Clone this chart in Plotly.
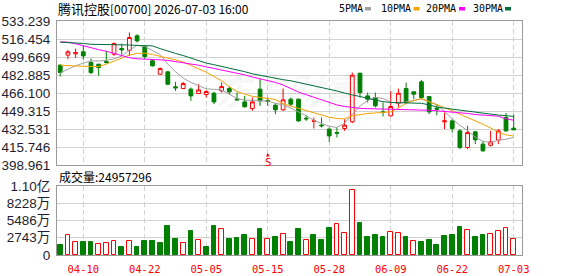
import plotly.graph_objects as go

# ---------------- data ----------------
dates = [
    "2026-04-07", "2026-04-08", "2026-04-09", "2026-04-10", "2026-04-13", "2026-04-14", "2026-04-15",
    "2026-04-16", "2026-04-17", "2026-04-20", "2026-04-21", "2026-04-22", "2026-04-23", "2026-04-24",
    "2026-04-27", "2026-04-28", "2026-04-29", "2026-04-30", "2026-05-04", "2026-05-05", "2026-05-06",
    "2026-05-07", "2026-05-08", "2026-05-11", "2026-05-12", "2026-05-13", "2026-05-14", "2026-05-15",
    "2026-05-18", "2026-05-19", "2026-05-20", "2026-05-21", "2026-05-22", "2026-05-26", "2026-05-27",
    "2026-05-28", "2026-05-29", "2026-06-01", "2026-06-02", "2026-06-03", "2026-06-04", "2026-06-05",
    "2026-06-08", "2026-06-09", "2026-06-10", "2026-06-11", "2026-06-12", "2026-06-15", "2026-06-16",
    "2026-06-17", "2026-06-18", "2026-06-22", "2026-06-23", "2026-06-24", "2026-06-25", "2026-06-26",
    "2026-06-29", "2026-06-30", "2026-07-02", "2026-07-03",
]
open_ = [492.0, 501.4, 502.6, 504.5, 494.5, 493.0, 495.4, 502.3, 507.6, 506.0,
         519.4, 509.4, 496.1, 483.6, 485.8, 471.9, 470.3, 469.7, 465.6, 464.7,
         465.9, 468.1, 470.3, 460.3, 457.8, 451.6, 469.7, 459.1, 454.7, 450.4,
         460.3, 460.3, 442.6, 439.8, 436.1, 432.4, 429.2, 433.0, 439.2, 484.6,
         463.4, 461.9, 448.5, 444.8, 456.3, 470.3, 467.2, 476.5, 462.8, 451.9,
         439.2, 440.1, 430.8, 415.3, 429.9, 418.4, 417.4, 422.1, 443.2, 433.3]
high = [493.0, 506.3, 507.6, 510.1, 498.2, 493.0, 505.4, 513.2, 512.2, 522.5,
        520.9, 510.7, 497.6, 489.9, 486.7, 476.5, 476.5, 471.2, 474.3, 468.7,
        467.2, 475.9, 472.1, 466.5, 463.4, 461.9, 479.0, 461.9, 456.6, 470.3,
        461.9, 460.9, 445.4, 443.2, 443.2, 433.9, 433.9, 441.7, 485.2, 484.6,
        466.5, 466.5, 457.2, 468.1, 470.3, 475.9, 467.2, 478.3, 462.8, 455.7,
        447.9, 441.7, 432.4, 435.5, 430.8, 421.5, 430.8, 432.4, 447.3, 446.3]
low = [481.5, 497.6, 498.9, 497.0, 483.6, 482.1, 493.6, 500.7, 501.7, 500.7,
       513.2, 497.6, 490.8, 483.0, 473.4, 468.1, 469.7, 458.8, 465.0, 461.9,
       455.7, 466.5, 464.4, 459.5, 452.6, 449.5, 454.1, 454.1, 446.3, 449.5,
       454.1, 439.2, 440.1, 433.0, 433.9, 420.5, 424.6, 430.8, 438.0, 461.9,
       457.2, 452.6, 444.2, 444.2, 452.6, 455.7, 460.3, 460.3, 446.3, 445.4,
       432.4, 429.2, 413.7, 413.7, 418.4, 411.2, 416.2, 418.4, 429.9, 431.7]
close = [485.2, 504.5, 503.8, 500.7, 485.2, 489.9, 494.5, 512.2, 506.3, 517.8,
         514.7, 500.1, 491.4, 488.9, 474.3, 470.9, 474.9, 463.4, 469.0, 467.5,
         457.8, 472.1, 467.2, 459.7, 453.2, 457.8, 458.8, 458.2, 450.4, 459.7,
         455.7, 440.1, 442.0, 440.1, 435.5, 426.1, 428.6, 436.1, 482.7, 466.5,
         460.3, 454.1, 447.9, 453.5, 465.9, 457.2, 465.0, 461.9, 448.5, 451.0,
         440.1, 433.0, 415.3, 429.2, 422.4, 412.2, 420.5, 430.8, 430.8, 431.7]

ma5 = [485.0, 488.5, 491.5, 494.0, 496.0, 496.0, 496.5, 498.0, 500.5, 506.0,
       510.5, 509.5, 505.5, 502.0, 493.0, 486.0, 480.0, 476.0, 473.0, 470.0,
       469.5, 469.0, 465.0, 461.0, 459.5, 459.0, 458.8, 458.5, 456.5, 455.0,
       452.0, 448.5, 445.0, 440.5, 437.5, 435.0, 434.0, 438.0, 446.0, 454.0,
       459.0, 462.0, 461.0, 457.5, 456.5, 458.0, 459.5, 460.5, 458.0, 455.0,
       449.0, 442.0, 436.0, 431.0, 425.0, 421.0, 420.0, 422.0, 423.0, 424.6]
ma10 = [492.0, 491.5, 491.0, 491.0, 490.8, 490.8, 493.0, 496.0, 498.5, 501.5,
        503.0, 503.2, 502.0, 500.5, 499.0, 497.0, 495.0, 492.0, 488.5, 485.5,
        481.5, 477.5, 472.0, 467.5, 465.0, 463.0, 462.0, 461.0, 460.0, 456.0,
        454.0, 452.0, 450.0, 447.5, 445.5, 443.5, 442.3, 442.0, 444.8, 446.0,
        447.0, 447.5, 448.0, 448.5, 452.0, 456.5, 459.0, 461.0, 458.0, 455.5,
        452.5, 449.5, 446.5, 443.5, 440.5, 437.0, 433.5, 429.5, 427.0, 426.0]
ma20 = [513.8, 513.5, 512.0, 510.0, 508.5, 506.5, 505.0, 503.0, 501.0, 499.0,
        498.0, 497.8, 497.5, 497.0, 496.5, 495.5, 494.5, 493.5, 492.0, 490.5,
        489.0, 488.0, 486.5, 484.5, 483.0, 481.0, 479.5, 478.0, 476.0, 473.5,
        470.0, 467.0, 464.5, 462.0, 460.0, 457.5, 455.0, 453.5, 452.5, 451.8,
        451.5, 451.3, 451.2, 451.0, 451.0, 451.0, 451.0, 450.5, 450.0, 449.5,
        449.0, 448.5, 448.0, 447.0, 446.0, 445.5, 445.0, 444.5, 442.0, 440.7]
ma30 = [513.5, 513.3, 513.0, 512.3, 511.5, 511.2, 511.0, 511.0, 511.0, 510.8,
        510.7, 510.3, 510.0, 507.5, 505.0, 503.0, 501.0, 498.5, 496.0, 494.0,
        492.5, 491.0, 489.0, 487.5, 486.0, 484.0, 482.5, 481.0, 480.0, 478.5,
        477.5, 476.0, 474.5, 473.0, 471.5, 470.0, 468.0, 466.0, 464.5, 463.0,
        461.5, 460.0, 458.0, 457.3, 457.2, 457.2, 457.0, 456.5, 455.0, 453.0,
        452.0, 451.0, 450.0, 449.0, 448.0, 447.5, 446.5, 445.5, 445.0, 444.2]

volume = [16230000, 32460000, 20560000, 21100000, 21100000, 17850000, 18940000, 22180000, 12980000, 22180000,
          12980000, 22720000, 22720000, 18390000, 45440000, 25970000, 18940000, 38950000, 23800000, 12980000,
          45440000, 41660000, 25970000, 27590000, 32460000, 25430000, 40580000, 25430000, 29210000, 33540000,
          20020000, 40580000, 24350000, 32460000, 24350000, 42200000, 48690000, 35170000, 103870000, 50310000,
          29210000, 32460000, 29210000, 36790000, 35170000, 29210000, 22720000, 20020000, 24350000, 16230000,
          30840000, 32460000, 43820000, 40030000, 29210000, 32460000, 34080000, 38950000, 42200000, 24957296]
# volume bar direction: r = up (red hollow), g = down (green)
volume_dir = list("grrggrrrgr" "ggggggrgrg" "grgggrgrgr" "ggrgggrrrg" "gggrrgrggg" "gggrggrrrr")

tick_dates = ["2026-04-10", "2026-04-22", "2026-05-05", "2026-05-15",
              "2026-05-28", "2026-06-09", "2026-06-22", "2026-07-03"]
tick_labels = ["04-10", "04-22", "05-05", "05-15", "05-28", "06-09", "06-22", "07-03"]
price_ticks = [398.961, 415.746, 432.531, 449.315, 466.100, 482.885, 499.669, 516.454, 533.239]
vol_ticks = [0, 27430000, 54860000, 82280000, 109710000]
vol_tick_labels = ["0", "2743万", "5486万", "8228万", "1.10亿"]

signal_dates = ["2026-05-15"]
signal_text = ["S"]

title_name = "腾讯控股"
title_rest = "[00700] 2026-07-03 16:00"
ma_names = ["5PMA", "10PMA", "20PMA", "30PMA"]

# ---------------- styles ----------------
RED = "#ff0000"
GREEN = "#008000"
MA_COLORS = ["#a0a0a0", "#f5a300", "#ff00ff", "#006e3a"]
AXIS_LINE = "#9a9a9a"
GRID = "#d2d2d2"
TICK_COLOR = "#1e1e30"

W, H = 578, 276
ML, MR, MT, MB = 57, 56, 21, 21
PW, PH = W - ML - MR, H - MT - MB


def px_x(px):
    return (px - ML) / PW


def px_y(py):
    return (H - MB - py) / PH


fig = go.Figure()

fig.add_trace(go.Candlestick(
    x=dates, open=open_, high=high, low=low, close=close,
    increasing=dict(line=dict(color=RED, width=1), fillcolor="white"),
    decreasing=dict(line=dict(color=GREEN, width=1), fillcolor=GREEN),
    whiskerwidth=0, xaxis="x", yaxis="y", hoverinfo="skip",
))

for vals, col in zip([ma5, ma10, ma20, ma30], MA_COLORS):
    fig.add_trace(go.Scatter(x=dates, y=vals, mode="lines",
                             line=dict(color=col, width=1),
                             xaxis="x", yaxis="y", hoverinfo="skip"))

fig.add_trace(go.Bar(
    x=dates, y=volume, width=0.62,
    marker=dict(color=["white" if d == "r" else GREEN for d in volume_dir],
                line=dict(color=[RED if d == "r" else GREEN for d in volume_dir], width=1)),
    xaxis="x2", yaxis="y2", hoverinfo="skip",
))

tickfont = dict(family="Liberation Sans, Noto Sans CJK SC", size=13.5, color=TICK_COLOR)

fig.update_layout(
    width=W, height=H,
    margin=dict(l=ML, r=MR, t=MT, b=MB, pad=0),
    paper_bgcolor="white", plot_bgcolor="white",
    showlegend=False,
    bargap=0,
    xaxis=dict(
        type="category", categoryorder="array", categoryarray=dates,
        range=[-0.42, 60.08], domain=[0, 1], anchor="y", automargin=False,
        tickvals=tick_dates, showticklabels=False,
        showgrid=True, gridcolor=GRID, griddash="5px,3px", gridwidth=1,
        showline=True, linecolor=AXIS_LINE, linewidth=1, mirror=True,
        ticks="", zeroline=False, rangeslider=dict(visible=False),
    ),
    yaxis=dict(
        domain=[px_y(165), 1], range=[price_ticks[0], price_ticks[-1]], automargin=False,
        tickvals=price_ticks, ticktext=["%.3f" % v for v in price_ticks],
        tickfont=tickfont, showgrid=True, gridcolor=GRID, gridwidth=1,
        showline=True, linecolor=AXIS_LINE, linewidth=1, mirror=True,
        ticks="", zeroline=False, ticklabelstandoff=3,
    ),
    xaxis2=dict(
        type="category", categoryorder="array", categoryarray=dates,
        range=[-0.42, 60.08], domain=[0, 1], anchor="y2", automargin=False,
        tickvals=tick_dates, ticktext=tick_labels,
        tickfont=dict(family="DejaVu Sans Mono", size=10.5, color=RED),
        showgrid=True, gridcolor=GRID, griddash="5px,3px", gridwidth=1,
        showline=True, linecolor=AXIS_LINE, linewidth=1, mirror=True,
        ticks="", zeroline=False, ticklabelstandoff=4,
    ),
    yaxis2=dict(
        domain=[0, px_y(186)], range=[0, vol_ticks[-1]], automargin=False,
        tickvals=vol_ticks, ticktext=vol_tick_labels,
        tickfont=tickfont, showgrid=True, gridcolor=GRID, gridwidth=1,
        showline=True, linecolor=AXIS_LINE, linewidth=1, mirror=True,
        ticks="", zeroline=False, ticklabelstandoff=3,
    ),
)

annotations = []
# title
annotations.append(dict(
    xref="paper", yref="paper", x=0, y=px_y(9), xanchor="left", yanchor="middle",
    text='<span style="font-size:13px">%s</span>%s' % (title_name, title_rest),
    showarrow=False, borderpad=0,
    font=dict(family="Noto Sans CJK SC", size=12, color="#000"),
))
# legend
legend_text_x = [338, 380, 425, 472]
legend_box_x = [365, 413.5, 459, 505]
for name, tx, bx, col in zip(ma_names, legend_text_x, legend_box_x, MA_COLORS):
    annotations.append(dict(
        xref="paper", yref="paper", x=px_x(tx), y=px_y(8.5), xanchor="left", yanchor="middle",
        text=name, showarrow=False, borderpad=0,
        font=dict(family="DejaVu Sans Mono", size=10, color="#000"),
    ))
    fig.add_shape(type="rect", xref="paper", yref="paper",
                  x0=px_x(bx), x1=px_x(bx + 6), y0=px_y(10.5), y1=px_y(7),
                  line=dict(width=0), fillcolor=col)
# volume label
annotations.append(dict(
    xref="paper", yref="paper", x=0, y=px_y(176.5), xanchor="left", yanchor="middle",
    text="成交量:%d" % volume[-1], showarrow=False,
    font=dict(family="Noto Sans CJK SC", size=12, color="#000"),
))
# watermark
annotations.append(dict(
    xref="paper", yref="paper", x=px_x(289), y=px_y(89), xanchor="center", yanchor="middle",
    text="<i><b>东方财富</b></i>", showarrow=False,
    font=dict(family="Noto Sans CJK SC", size=36, color="rgba(0,0,0,0.05)"),
))
# signal markers (letter with a small up-arrow tip above it)
for d, t in zip(signal_dates, signal_text):
    annotations.append(dict(
        xref="x", yref="y domain", x=d, y=(165 - 153) / 144,
        text=t, showarrow=True, ax=0, ay=9, arrowhead=2, arrowsize=0.7,
        arrowwidth=1, arrowcolor=RED, standoff=0, startstandoff=0,
        font=dict(family="DejaVu Sans", size=10, color=RED),
        borderpad=0,
    ))

fig.update_layout(annotations=annotations)

fig.write_html("out.html")
